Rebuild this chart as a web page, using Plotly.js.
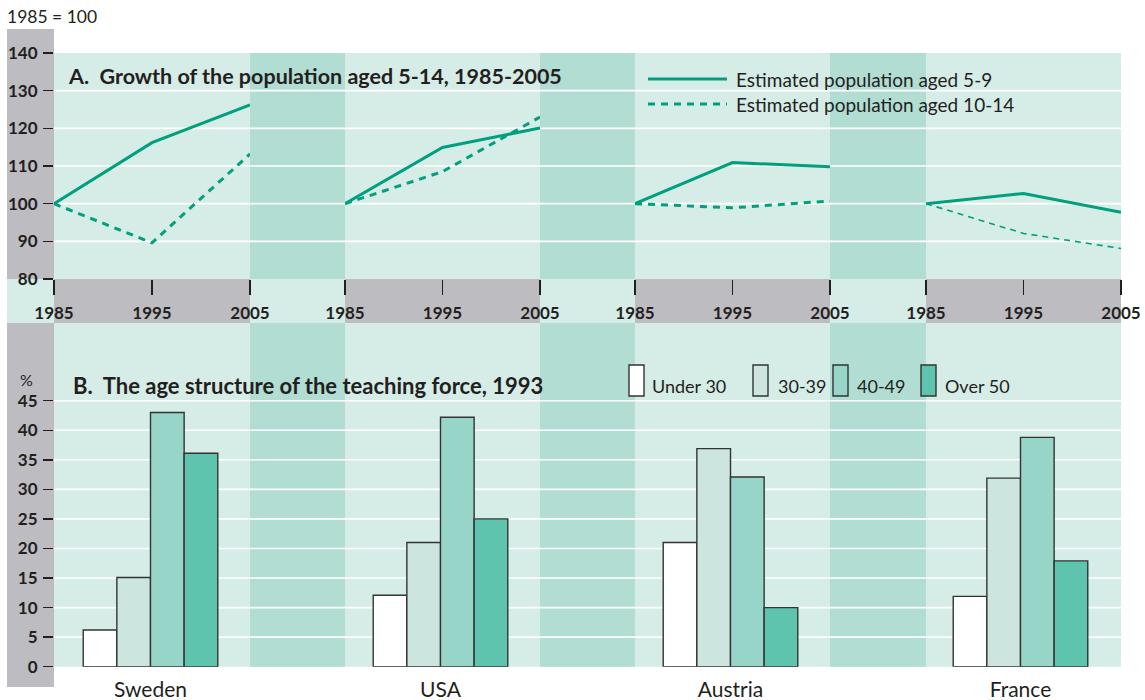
<!DOCTYPE html>
<html>
<head>
<meta charset="utf-8">
<script src="https://cdn.plot.ly/plotly-3.0.1.min.js"></script>
<style>
html,body{margin:0;padding:0;background:#fff;}
#chart{width:1145px;height:700px;}
</style>
</head>
<body>
<div id="chart"></div>
<script>
// ---------- DATA ----------
const years = [1985, 1995, 2005];
const countries = ['Sweden', 'USA', 'Austria', 'France'];
const popTicks = [80, 90, 100, 110, 120, 130, 140];
const pctTicks = [0, 5, 10, 15, 20, 25, 30, 35, 40, 45];

// Panel A: index 1985 = 100
const sweden5to9   = [100, 116.2, 126.2];
const sweden10to14 = [100, 89.6, 113.2];
const usa5to9      = [100, 114.9, 120.1];
const usa10to14    = [100, 108.5, 123.0];
const austria5to9  = [100, 110.9, 109.8];
const austria10to14= [100, 98.9, 100.7];
const france5to9   = [100, 102.7, 97.7];
const france10to14 = [100, 92.1, 88.1];

// Panel B: age structure of teaching force, 1993 (%)
const ageGroups = ['Under 30', '30-39', '40-49', 'Over 50'];
const under30 = [6.2, 12.1, 21.0, 11.9];
const age30to39 = [15.1, 21.0, 36.9, 31.9];
const age40to49 = [43.0, 42.2, 32.1, 38.8];
const over50 = [36.1, 25.0, 10.0, 17.9];

// ---------- STYLE / LAYOUT HELPERS ----------
const W = 1145, H = 700;
const px = x => x / W;
const py = y => 1 - y / H;
const FONT = 'Lato, "Open Sans", sans-serif';
const INK = '#231f20';
const TEAL = '#00a07f';
const LIGHT = '#d6ece6';
const DARK = '#b1ddd3';
const GREY = '#bdbdc1';
const barColors = ['#ffffff', '#cce6df', '#98d5c9', '#5fc4ad'];

const segs = [[54, 250], [345, 540], [635, 830], [926, 1121]];
const gaps = [[250, 345], [540, 635], [830, 926]];
const TOP_Y0 = 53, TOP_Y1 = 279, BAND_Y1 = 323, BOT_Y1 = 666.7;
const LEFT0 = 7, LEFT1 = 54, RIGHT1 = 1121;

// ---------- TRACES ----------
const topSeries = [
  [sweden5to9, sweden10to14],
  [usa5to9, usa10to14],
  [austria5to9, austria10to14],
  [france5to9, france10to14]
];
const traces = [];
topSeries.forEach((pair, i) => {
  const xa = i === 0 ? 'x' : 'x' + (i + 1);
  traces.push({
    type: 'scatter', mode: 'lines', x: years, y: pair[0],
    xaxis: xa, yaxis: 'y', showlegend: false, hoverinfo: 'skip',
    line: {color: TEAL, width: 3}
  });
  traces.push({
    type: 'scatter', mode: 'lines', x: years, y: pair[1],
    xaxis: xa, yaxis: 'y', showlegend: false, hoverinfo: 'skip',
    line: {color: TEAL, width: i === 3 ? 1.6 : 3, dash: i === 3 ? '6px,5px' : '7px,6px'}
  });
});
const barSeries = [under30, age30to39, age40to49, over50];
barSeries.forEach((vals, k) => {
  traces.push({
    type: 'bar', x: countries, y: vals, name: ageGroups[k],
    xaxis: 'x5', yaxis: 'y2', showlegend: false, hoverinfo: 'skip',
    marker: {color: barColors[k], line: {color: '#333333', width: 1.4}}
  });
});

// ---------- SHAPES ----------
const shapes = [];
function rect(x0, y0, x1, y1, color) {
  shapes.push({type: 'rect', xref: 'paper', yref: 'paper', layer: 'below',
    x0: px(x0), x1: px(x1), y0: py(y1), y1: py(y0),
    fillcolor: color, line: {width: 0}});
}
// left grey strip
rect(LEFT0, 29, LEFT1, TOP_Y1, GREY);
rect(LEFT0, TOP_Y1, LEFT1, BAND_Y1, LIGHT);
rect(LEFT0, BAND_Y1, LEFT1, 687, GREY);
// top panel
rect(LEFT1, TOP_Y0, RIGHT1, TOP_Y1, LIGHT);
gaps.forEach(g => rect(g[0], TOP_Y0, g[1], TOP_Y1, DARK));
// x-axis band
segs.forEach(s => rect(s[0], TOP_Y1, s[1], BAND_Y1, GREY));
gaps.forEach(g => rect(g[0], TOP_Y1, g[1], BAND_Y1, LIGHT));
// bottom panel
rect(LEFT1, BAND_Y1, RIGHT1, BOT_Y1, LIGHT);
gaps.forEach(g => rect(g[0], BAND_Y1, g[1], BOT_Y1, DARK));
// gridlines
popTicks.slice(1, -1).forEach(v => shapes.push({type: 'line', xref: 'paper', yref: 'y', layer: 'below',
  x0: px(LEFT1), x1: px(RIGHT1), y0: v, y1: v, line: {color: '#ffffff', width: 1.6}}));
pctTicks.slice(1).forEach(v => shapes.push({type: 'line', xref: 'paper', yref: 'y2', layer: 'below',
  x0: px(LEFT1), x1: px(RIGHT1), y0: v, y1: v, line: {color: '#ffffff', width: 1.6}}));
// legend A samples
shapes.push({type: 'line', xref: 'paper', yref: 'paper', x0: px(648), x1: px(727), y0: py(79), y1: py(79),
  line: {color: TEAL, width: 3}});
shapes.push({type: 'line', xref: 'paper', yref: 'paper', x0: px(648), x1: px(727), y0: py(104), y1: py(104),
  line: {color: TEAL, width: 3, dash: '7px,6px'}});
// legend B boxes
const legBoxX = [629, 753, 833, 921];
const legTextX = [650, 776, 855, 943];
legBoxX.forEach((x, k) => shapes.push({type: 'rect', xref: 'paper', yref: 'paper',
  x0: px(x), x1: px(x + 15), y0: py(396), y1: py(365),
  fillcolor: barColors[k], line: {color: '#333333', width: 1.4}}));

// ---------- ANNOTATIONS ----------
const ann = [];
function txt(text, x, y, size, bold, anchor) {
  ann.push({text: bold ? '<b>' + text + '</b>' : text, xref: 'paper', yref: 'paper',
    x: px(x), y: py(y), xanchor: anchor || 'left', yanchor: 'middle', showarrow: false,
    font: {family: FONT, size: size, color: INK}});
}
txt('1985 = 100', 5, 16, 17.5, false);
txt('A.  Growth of the population aged 5-14, 1985-2005', 66, 76, 21.5, true);
txt('Estimated population aged 5-9', 734, 79, 19, false);
txt('Estimated population aged 10-14', 734, 104, 19, false);
txt('%', 18, 379, 16, false);
txt('B.  The age structure of the teaching force, 1993', 71, 385, 22, true);
ageGroups.forEach((g, k) => txt(g, legTextX[k], 386, 18, false));

// ---------- AXES ----------
const layout = {
  width: W, height: H,
  margin: {l: 0, r: 0, t: 0, b: 0},
  paper_bgcolor: '#ffffff', plot_bgcolor: 'rgba(0,0,0,0)',
  showlegend: false,
  barmode: 'group', bargap: 0.536, bargroupgap: 0,
  shapes: shapes, annotations: ann,
  yaxis: {domain: [py(TOP_Y1), py(TOP_Y0)], range: [80, 140], anchor: 'x',
    tickvals: popTicks, ticks: 'outside', ticklen: 10, tickwidth: 1.5, tickcolor: INK,
    showgrid: false, zeroline: false, showline: false, ticklabelstandoff: 2,
    tickfont: {family: FONT, size: 17, color: INK, weight: 'bold'}},
  yaxis2: {domain: [py(BOT_Y1), py(BAND_Y1)], range: [0, (BOT_Y1 - BAND_Y1) / ((BOT_Y1 - 400.7) / 45)], anchor: 'x5',
    tickvals: pctTicks, ticks: 'outside', ticklen: 10, tickwidth: 1.5, tickcolor: INK,
    showgrid: false, zeroline: false, showline: false, ticklabelstandoff: 2,
    tickfont: {family: FONT, size: 17, color: INK, weight: 'bold'}},
  xaxis5: {domain: [px(LEFT1), px(RIGHT1)], anchor: 'y2', type: 'category',
    range: [-(150.5 - LEFT1) / 290, 3 + (RIGHT1 - 1020.5) / 290],
    showgrid: false, zeroline: false, showline: false, ticks: '', ticklabelstandoff: 8,
    tickfont: {family: FONT, size: 21, color: INK}}
};
segs.forEach((s, i) => {
  const key = i === 0 ? 'xaxis' : 'xaxis' + (i + 1);
  layout[key] = {domain: [px(s[0]), px(s[1])], anchor: 'y', range: [1985, 2005],
    tickvals: years, ticks: 'outside', ticklen: 15, tickwidth: 1.5, tickcolor: INK,
    showgrid: false, zeroline: false, showline: false, ticklabelstandoff: 4,
    tickfont: {family: FONT, size: 17, color: INK, weight: 'bold'}};
});

Plotly.newPlot('chart', traces, layout, {staticPlot: true, displayModeBar: false});
</script>
</body>
</html>
